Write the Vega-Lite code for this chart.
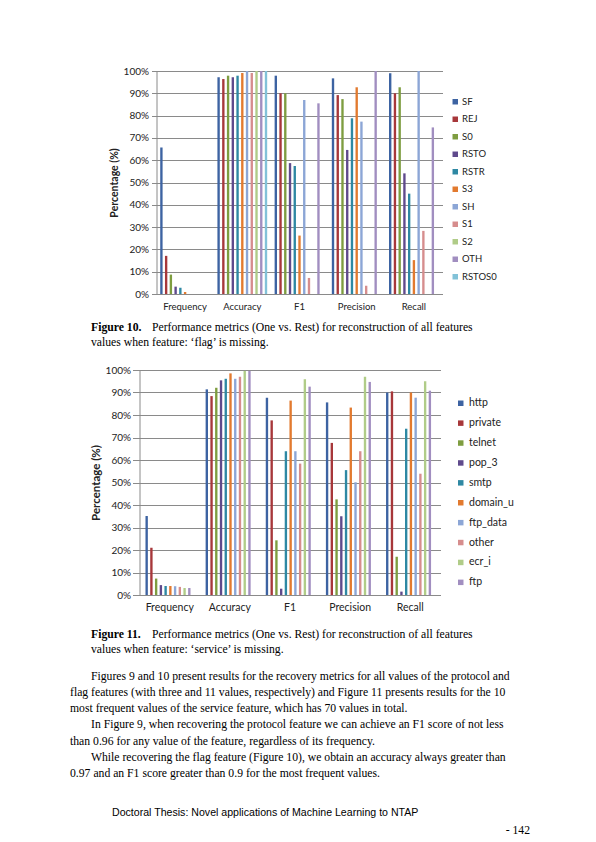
{
  "$schema": "https://vega.github.io/schema/vega-lite/v6.json",
  "description": "Page 142: performance metrics (One vs. Rest) when 'flag' and 'service' are missing",
  "background": "white",
  "padding": {"left": 70, "top": 66, "right": 0, "bottom": 0},
  "config": {
    "view": {"stroke": null},
    "axis": {"labelFont": "Lato", "titleFont": "Lato", "labelColor": "#222", "titleColor": "#222"},
    "legend": {"labelFont": "Lato", "labelColor": "#222"}
  },
  "spacing": 0,
  "center": true,
  "resolve": {"scale": {"color": "independent"}, "legend": {"color": "independent"}},
  "datasets": {
    "flag": [
      {"metric": "Frequency", "series": "SF", "pct": 65.7},
      {"metric": "Frequency", "series": "REJ", "pct": 17.1},
      {"metric": "Frequency", "series": "S0", "pct": 8.7},
      {"metric": "Frequency", "series": "RSTO", "pct": 3.3},
      {"metric": "Frequency", "series": "RSTR", "pct": 2.8},
      {"metric": "Frequency", "series": "S3", "pct": 0.9},
      {"metric": "Frequency", "series": "SH", "pct": 0},
      {"metric": "Frequency", "series": "S1", "pct": 0},
      {"metric": "Frequency", "series": "S2", "pct": 0},
      {"metric": "Frequency", "series": "OTH", "pct": 0},
      {"metric": "Frequency", "series": "RSTOS0", "pct": 0},
      {"metric": "Accuracy", "series": "SF", "pct": 97.2},
      {"metric": "Accuracy", "series": "REJ", "pct": 96.4},
      {"metric": "Accuracy", "series": "S0", "pct": 97.9},
      {"metric": "Accuracy", "series": "RSTO", "pct": 97.2},
      {"metric": "Accuracy", "series": "RSTR", "pct": 97.9},
      {"metric": "Accuracy", "series": "S3", "pct": 99.1},
      {"metric": "Accuracy", "series": "SH", "pct": 100},
      {"metric": "Accuracy", "series": "S1", "pct": 99.1},
      {"metric": "Accuracy", "series": "S2", "pct": 100},
      {"metric": "Accuracy", "series": "OTH", "pct": 100},
      {"metric": "Accuracy", "series": "RSTOS0", "pct": 100},
      {"metric": "F1", "series": "SF", "pct": 97.9},
      {"metric": "F1", "series": "REJ", "pct": 90},
      {"metric": "F1", "series": "S0", "pct": 90},
      {"metric": "F1", "series": "RSTO", "pct": 58.7},
      {"metric": "F1", "series": "RSTR", "pct": 57.4},
      {"metric": "F1", "series": "S3", "pct": 26.2},
      {"metric": "F1", "series": "SH", "pct": 87},
      {"metric": "F1", "series": "S1", "pct": 7.2},
      {"metric": "F1", "series": "S2", "pct": 0},
      {"metric": "F1", "series": "OTH", "pct": 85.5},
      {"metric": "F1", "series": "RSTOS0", "pct": 0},
      {"metric": "Precision", "series": "SF", "pct": 96.7},
      {"metric": "Precision", "series": "REJ", "pct": 89.2},
      {"metric": "Precision", "series": "S0", "pct": 87.4},
      {"metric": "Precision", "series": "RSTO", "pct": 64.6},
      {"metric": "Precision", "series": "RSTR", "pct": 78.8},
      {"metric": "Precision", "series": "S3", "pct": 92.7},
      {"metric": "Precision", "series": "SH", "pct": 77.3},
      {"metric": "Precision", "series": "S1", "pct": 3.7},
      {"metric": "Precision", "series": "S2", "pct": 0},
      {"metric": "Precision", "series": "OTH", "pct": 100},
      {"metric": "Precision", "series": "RSTOS0", "pct": 0},
      {"metric": "Recall", "series": "SF", "pct": 99},
      {"metric": "Recall", "series": "REJ", "pct": 90},
      {"metric": "Recall", "series": "S0", "pct": 92.7},
      {"metric": "Recall", "series": "RSTO", "pct": 54.1},
      {"metric": "Recall", "series": "RSTR", "pct": 45},
      {"metric": "Recall", "series": "S3", "pct": 15.2},
      {"metric": "Recall", "series": "SH", "pct": 100},
      {"metric": "Recall", "series": "S1", "pct": 28.3},
      {"metric": "Recall", "series": "S2", "pct": 0},
      {"metric": "Recall", "series": "OTH", "pct": 74.7},
      {"metric": "Recall", "series": "RSTOS0", "pct": 0}
    ],
    "service": [
      {"metric": "Frequency", "series": "http", "pct": 35.1},
      {"metric": "Frequency", "series": "private", "pct": 21},
      {"metric": "Frequency", "series": "telnet", "pct": 7.3},
      {"metric": "Frequency", "series": "pop_3", "pct": 4.4},
      {"metric": "Frequency", "series": "smtp", "pct": 4},
      {"metric": "Frequency", "series": "domain_u", "pct": 4},
      {"metric": "Frequency", "series": "ftp_data", "pct": 3.9},
      {"metric": "Frequency", "series": "other", "pct": 3.6},
      {"metric": "Frequency", "series": "ecr_i", "pct": 3.1},
      {"metric": "Frequency", "series": "ftp", "pct": 3.1},
      {"metric": "Accuracy", "series": "http", "pct": 91.4},
      {"metric": "Accuracy", "series": "private", "pct": 88.4},
      {"metric": "Accuracy", "series": "telnet", "pct": 92.1},
      {"metric": "Accuracy", "series": "pop_3", "pct": 95.4},
      {"metric": "Accuracy", "series": "smtp", "pct": 96.1},
      {"metric": "Accuracy", "series": "domain_u", "pct": 98.5},
      {"metric": "Accuracy", "series": "ftp_data", "pct": 96.1},
      {"metric": "Accuracy", "series": "other", "pct": 97},
      {"metric": "Accuracy", "series": "ecr_i", "pct": 99.6},
      {"metric": "Accuracy", "series": "ftp", "pct": 99.6},
      {"metric": "F1", "series": "http", "pct": 87.7},
      {"metric": "F1", "series": "private", "pct": 77.6},
      {"metric": "F1", "series": "telnet", "pct": 24.3},
      {"metric": "F1", "series": "pop_3", "pct": 2.8},
      {"metric": "F1", "series": "smtp", "pct": 63.9},
      {"metric": "F1", "series": "domain_u", "pct": 86.4},
      {"metric": "F1", "series": "ftp_data", "pct": 63.9},
      {"metric": "F1", "series": "other", "pct": 58.4},
      {"metric": "F1", "series": "ecr_i", "pct": 95.9},
      {"metric": "F1", "series": "ftp", "pct": 92.6},
      {"metric": "Precision", "series": "http", "pct": 85.6},
      {"metric": "Precision", "series": "private", "pct": 67.6},
      {"metric": "Precision", "series": "telnet", "pct": 42.5},
      {"metric": "Precision", "series": "pop_3", "pct": 35},
      {"metric": "Precision", "series": "smtp", "pct": 55.5},
      {"metric": "Precision", "series": "domain_u", "pct": 83.3},
      {"metric": "Precision", "series": "ftp_data", "pct": 50.1},
      {"metric": "Precision", "series": "other", "pct": 63.9},
      {"metric": "Precision", "series": "ecr_i", "pct": 97},
      {"metric": "Precision", "series": "ftp", "pct": 94.7},
      {"metric": "Recall", "series": "http", "pct": 90},
      {"metric": "Recall", "series": "private", "pct": 90.5},
      {"metric": "Recall", "series": "telnet", "pct": 17},
      {"metric": "Recall", "series": "pop_3", "pct": 1.5},
      {"metric": "Recall", "series": "smtp", "pct": 73.9},
      {"metric": "Recall", "series": "domain_u", "pct": 90},
      {"metric": "Recall", "series": "ftp_data", "pct": 87.7},
      {"metric": "Recall", "series": "other", "pct": 53.9},
      {"metric": "Recall", "series": "ecr_i", "pct": 95},
      {"metric": "Recall", "series": "ftp", "pct": 90.8}
    ]
  },
  "vconcat": [
    {
      "width": 286,
      "height": 223,
      "data": {"name": "flag"},
      "mark": {"type": "bar"},
      "encoding": {
        "x": {
          "field": "metric", "type": "nominal",
          "sort": ["Frequency", "Accuracy", "F1", "Precision", "Recall"],
          "scale": {"paddingInner": 0.13, "paddingOuter": 0.065},
          "axis": {"title": null, "labelAngle": 0, "ticks": false, "domainColor": "#8a8a8a", "labelFontSize": 9.5, "labelPadding": 7}
        },
        "xOffset": {
          "field": "series", "type": "nominal",
          "sort": ["SF", "REJ", "S0", "RSTO", "RSTR", "S3", "SH", "S1", "S2", "OTH", "RSTOS0"]
        },
        "y": {
          "field": "pct", "type": "quantitative",
          "scale": {"domain": [0, 100], "nice": false},
          "axis": {
            "values": [0, 10, 20, 30, 40, 50, 60, 70, 80, 90, 100],
            "labelExpr": "datum.value + '%'",
            "title": "Percentage (%)", "titleFontSize": 10.5, "titleFontWeight": "bold", "titlePadding": 4,
            "labelFontSize": 10, "labelPadding": 3,
            "tickSize": 5, "tickColor": "#8a8a8a", "domainColor": "#8a8a8a", "gridColor": "#8a8a8a"
          }
        },
        "color": {
          "field": "series", "type": "nominal",
          "scale": {
            "domain": ["SF", "REJ", "S0", "RSTO", "RSTR", "S3", "SH", "S1", "S2", "OTH", "RSTOS0"],
            "range": ["#3d63a2", "#a7373a", "#7e9d40", "#5f4a8c", "#2e88a3", "#e27a2f", "#8ca6d6", "#d68d8d", "#b0cc88", "#a18ec0", "#82c2d8"]
          },
          "legend": {
            "title": null, "orient": "none", "legendX": 294, "legendY": 26,
            "symbolType": "square", "symbolSize": 30, "symbolStrokeWidth": 0,
            "labelFontSize": 9.5, "labelOffset": 2, "rowPadding": 6.5
          }
        }
      }
    },
    {
      "width": 472,
      "height": 53.5,
      "data": {"values": [
        {"line": 1, "lead": "Figure 10.", "text": "Performance metrics (One vs. Rest) for reconstruction of all features"},
        {"line": 2, "text": "values when feature: ‘flag’ is missing."}
      ]},
      "encoding": {
        "y": {"field": "line", "type": "ordinal", "axis": null, "scale": {"type": "band", "paddingInner": 0, "paddingOuter": 0.783, "align": 0.362}},
        "x": {"value": 0}
      },
      "layer": [
        {
          "transform": [{"filter": "datum.lead"}],
          "mark": {"type": "text", "align": "left", "baseline": "middle", "font": "Liberation Serif", "fontSize": 11.7, "fontWeight": "bold", "color": "#000"},
          "encoding": {"text": {"field": "lead"}}
        },
        {
          "transform": [{"filter": "datum.line == 1"}],
          "mark": {"type": "text", "align": "left", "baseline": "middle", "font": "Liberation Serif", "fontSize": 11.7, "color": "#000", "dx": 61},
          "encoding": {"text": {"field": "text"}}
        },
        {
          "transform": [{"filter": "datum.line == 2"}],
          "mark": {"type": "text", "align": "left", "baseline": "middle", "font": "Liberation Serif", "fontSize": 11.7, "color": "#000"},
          "encoding": {"text": {"field": "text"}}
        }
      ]
    },
    {
      "width": 301,
      "height": 225,
      "data": {"name": "service"},
      "mark": {"type": "bar"},
      "encoding": {
        "x": {
          "field": "metric", "type": "nominal",
          "sort": ["Frequency", "Accuracy", "F1", "Precision", "Recall"],
          "scale": {"paddingInner": 0.115, "paddingOuter": 0.06},
          "axis": {"title": null, "labelAngle": 0, "ticks": false, "domainColor": "#8a8a8a", "labelFontSize": 10.5, "labelPadding": 7}
        },
        "xOffset": {
          "field": "series", "type": "nominal",
          "sort": ["http", "private", "telnet", "pop_3", "smtp", "domain_u", "ftp_data", "other", "ecr_i", "ftp"]
        },
        "y": {
          "field": "pct", "type": "quantitative",
          "scale": {"domain": [0, 100], "nice": false},
          "axis": {
            "values": [0, 10, 20, 30, 40, 50, 60, 70, 80, 90, 100],
            "labelExpr": "datum.value + '%'",
            "title": "Percentage (%)", "titleFontSize": 11.5, "titleFontWeight": "bold", "titlePadding": 4,
            "labelFontSize": 10, "labelPadding": 2,
            "tickSize": 7, "tickColor": "#8a8a8a", "domainColor": "#8a8a8a", "gridColor": "#8a8a8a"
          }
        },
        "color": {
          "field": "series", "type": "nominal",
          "scale": {
            "domain": ["http", "private", "telnet", "pop_3", "smtp", "domain_u", "ftp_data", "other", "ecr_i", "ftp"],
            "range": ["#3d63a2", "#a7373a", "#7e9d40", "#5f4a8c", "#2e88a3", "#e27a2f", "#8ca6d6", "#d68d8d", "#b0cc88", "#a18ec0"]
          },
          "legend": {
            "title": null, "orient": "none", "legendX": 316, "legendY": 28,
            "symbolType": "square", "symbolSize": 30, "symbolStrokeWidth": 0,
            "labelFontSize": 10.5, "labelOffset": 3, "rowPadding": 8.9
          }
        }
      }
    },
    {
      "width": 472,
      "height": 50,
      "data": {"values": [
        {"line": 1, "lead": "Figure 11.", "text": "Performance metrics (One vs. Rest) for reconstruction of all features"},
        {"line": 2, "text": "values when feature: ‘service’ is missing."}
      ]},
      "encoding": {
        "y": {"field": "line", "type": "ordinal", "axis": null, "scale": {"type": "band", "paddingInner": 0, "paddingOuter": 0.667, "align": 0.675}},
        "x": {"value": 0}
      },
      "layer": [
        {
          "transform": [{"filter": "datum.lead"}],
          "mark": {"type": "text", "align": "left", "baseline": "middle", "font": "Liberation Serif", "fontSize": 11.7, "fontWeight": "bold", "color": "#000"},
          "encoding": {"text": {"field": "lead"}}
        },
        {
          "transform": [{"filter": "datum.line == 1"}],
          "mark": {"type": "text", "align": "left", "baseline": "middle", "font": "Liberation Serif", "fontSize": 11.7, "color": "#000", "dx": 61},
          "encoding": {"text": {"field": "text"}}
        },
        {
          "transform": [{"filter": "datum.line == 2"}],
          "mark": {"type": "text", "align": "left", "baseline": "middle", "font": "Liberation Serif", "fontSize": 11.7, "color": "#000"},
          "encoding": {"text": {"field": "text"}}
        }
      ]
    },
    {
      "width": 514,
      "height": 129,
      "data": {"values": [
        {"line": 1, "first": true, "text": "Figures 9 and 10 present results for the recovery metrics for all values of the protocol and"},
        {"line": 2, "first": false, "text": "flag features (with three and 11 values, respectively) and Figure 11 presents results for the 10"},
        {"line": 3, "first": false, "text": "most frequent values of the service feature, which has 70 values in total."},
        {"line": 4, "first": true, "text": "In Figure 9, when recovering the protocol feature we can achieve an F1 score of not less"},
        {"line": 5, "first": false, "text": "than 0.96 for any value of the feature, regardless of its frequency."},
        {"line": 6, "first": true, "text": "While recovering the flag feature (Figure 10), we obtain an accuracy always greater than"},
        {"line": 7, "first": false, "text": "0.97 and an F1 score greater than 0.9 for the most frequent values."}
      ]},
      "encoding": {
        "y": {"field": "line", "type": "ordinal", "axis": null, "scale": {"type": "band", "paddingInner": 0, "paddingOuter": 0.489, "align": 0.31}},
        "x": {"value": 0},
        "text": {"field": "text"}
      },
      "layer": [
        {
          "transform": [{"filter": "datum.first"}],
          "mark": {"type": "text", "align": "left", "baseline": "middle", "font": "Liberation Serif", "fontSize": 11.7, "color": "#000", "dx": 21}
        },
        {
          "transform": [{"filter": "!datum.first"}],
          "mark": {"type": "text", "align": "left", "baseline": "middle", "font": "Liberation Serif", "fontSize": 11.7, "color": "#000"}
        }
      ]
    },
    {
      "width": 514,
      "height": 52,
      "data": {"values": [
        {"line": 1, "text": "Doctoral Thesis: Novel applications of Machine Learning to NTAP"},
        {"line": 2, "text": "- 142"}
      ]},
      "encoding": {
        "y": {"field": "line", "type": "ordinal", "axis": null, "scale": {"type": "band", "paddingInner": 0, "paddingOuter": 0.529, "align": 0.694}},
        "text": {"field": "text"}
      },
      "layer": [
        {
          "transform": [{"filter": "datum.line == 1"}],
          "mark": {"type": "text", "align": "left", "baseline": "middle", "font": "Liberation Sans", "fontSize": 10.6, "color": "#000", "dx": 42},
          "encoding": {"x": {"value": 0}}
        },
        {
          "transform": [{"filter": "datum.line == 2"}],
          "mark": {"type": "text", "align": "right", "baseline": "middle", "font": "Liberation Serif", "fontSize": 11.7, "color": "#000", "dx": -54},
          "encoding": {"x": {"value": "width"}}
        }
      ]
    }
  ]
}
